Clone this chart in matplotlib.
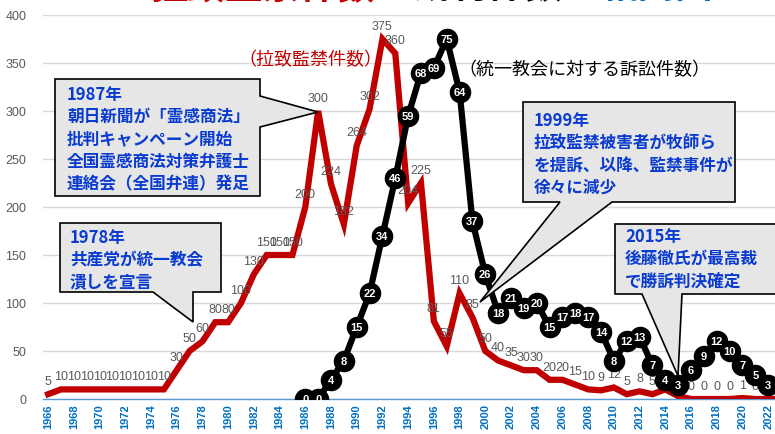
import matplotlib.pyplot as plt
from matplotlib.patches import Polygon

plt.rcParams['font.family'] = ['Noto Sans CJK JP', 'DejaVu Sans']

# 拉致監禁件数 (red)
years_red = list(range(1966, 2024))
confine = [5, 10, 10, 10, 10, 10, 10, 10, 10, 10,
           30, 50, 60, 80, 80, 100, 130, 150, 150, 150,
           200, 300, 224, 182, 264, 302, 375, 360, 204, 225,
           81, 55, 110, 85, 50, 40, 35, 30, 30, 20,
           20, 15, 10, 9, 12, 5, 8, 5, 10, 3,
           0, 0, 0, 0, 1, 0, 0, 0]

# 統一教会に対する訴訟件数 (black, drawn x5 on the same axis)
years_blk = list(range(1986, 2023))
lawsuits = [0, 0, 4, 8, 15, 22, 34, 46, 59, 68,
            69, 75, 64, 37, 26, 18, 21, 19, 20, 15,
            17, 18, 17, 14, 8, 12, 13, 7, 4, 3,
            6, 9, 12, 10, 7, 5, 3]
scale = 5

W, H = 775, 435
fig = plt.figure(figsize=(W / 100, H / 100), dpi=100)
ax = fig.add_axes([43 / W, 35 / H, 1 - 43 / W, (400 - 16) / H])

RED = '#c00000'
GRAY = '#595959'
BLUE_TXT = '#0a3bd0'

ax.plot(years_red, confine, color=RED, lw=4.5, solid_joinstyle='miter', zorder=3)
for x, v in zip(years_red, confine):
    ax.annotate(str(v), (x, v), xytext=(0, 9.5), textcoords='offset points',
                ha='center', va='center', fontsize=9, color=GRAY,
                family='Liberation Sans', zorder=4)

blk = [v * scale for v in lawsuits]
ax.plot(years_blk, blk, color='black', lw=4.5, marker='o', ms=14.5,
        mfc='black', mec='black', zorder=5)
for x, v in zip(years_blk, lawsuits):
    ax.text(x, v * scale, str(v), ha='center', va='center', fontsize=8,
            color='white', fontweight='bold', family='Liberation Sans', zorder=6)

ax.set_xlim(1965.6, 1966 + (775 - 48) / 12.86)
ax.set_ylim(0, 400)
ax.set_yticks(range(0, 401, 50))
ax.set_xticks(range(1966, 2023, 2))
ax.set_xticklabels([str(y) for y in range(1966, 2023, 2)], rotation=90,
                   fontsize=8, fontweight='bold', color='#0070c0',
                   family='Liberation Sans')
for lab in ax.get_yticklabels():
    lab.set_fontsize(9)
    lab.set_color(GRAY)
    lab.set_family('Liberation Sans')
ax.tick_params(length=0, pad=3)
ax.tick_params(axis='y', pad=12)
ax.grid(axis='y', color='#d9d9d9', lw=1)
ax.set_axisbelow(True)
for s in ['top', 'right', 'left']:
    ax.spines[s].set_visible(False)
ax.spines['bottom'].set_color('#5b9bd5')
ax.spines['bottom'].set_linewidth(1)

# series captions
fig.text(238 / W, 1 - 60 / H, '（拉致監禁件数）', color=RED, fontsize=13,
         ha='left', va='center')
fig.text(458 / W, 1 - 70 / H, '（統一教会に対する訴訟件数）', color='black',
         fontsize=13, ha='left', va='center')

# title (cut off at the top of the image)
ty = 1 + 2 / H
fig.text(150 / W, ty, '拉致監禁件数', color=RED, fontsize=27,
         fontweight='bold', va='baseline')
fig.text(375 / W, ty, 'と裁判件数の', color='black', fontsize=27,
         fontweight='bold', va='baseline')
fig.text(600 / W, ty, '相関図', color='#0070c0', fontsize=27,
         fontweight='bold', va='baseline')


def px(x, y):
    return (x / W, 1 - y / H)


def callout(box, side, b0, b1, tip, text, tx, ty):
    x0, y0, x1, y1 = box
    if side == 'right':
        pts = [(x0, y0), (x1, y0), (x1, b0), tip, (x1, b1), (x1, y1), (x0, y1)]
    else:
        pts = [(x0, y0), (x1, y0), (x1, y1), (b1, y1), tip, (b0, y1), (x0, y1)]
    poly = Polygon([px(*p) for p in pts], closed=True, transform=fig.transFigure,
                   facecolor='#e6e6e6', edgecolor='black', lw=1.2, zorder=10)
    fig.add_artist(poly)
    fig.text(*px(tx, ty), text, color=BLUE_TXT, fontsize=12, fontweight='bold',
             ha='left', va='top', linespacing=1.3, zorder=11)


callout((55, 80, 260, 197), 'right', 97, 128, (318, 113),
        '1987年\n朝日新聞が「霊感商法」\n批判キャンペーン開始\n全国霊感商法対策弁護士\n連絡会（全国弁連）発足',
        67, 86)
callout((60, 224, 221, 293), 'bottom', 153, 193, (193, 323),
        '1978年\n共産党が統一教会\n潰しを宣言', 70, 229)
callout((523, 103, 735, 203), 'bottom', 560, 612, (480, 303),
        '1999年\n拉致監禁被害者が牧師ら\nを提訴、以降、監禁事件が\n徐々に減少', 534, 112)
callout((615, 225, 790, 295), 'bottom', 642, 682, (678, 377),
        '2015年\n後藤徹氏が最高裁\nで勝訴判決確定', 625, 228)

fig.savefig('out.png', dpi=100)
